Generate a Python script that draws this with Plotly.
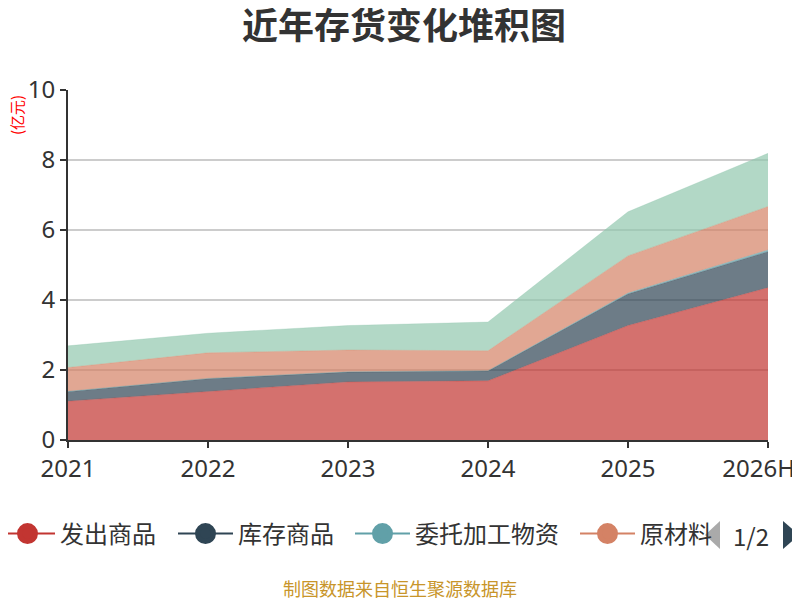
import plotly.graph_objects as go

years = ["2021", "2022", "2023", "2024", "2025", "2026H"]
names = ["发出商品", "库存商品", "委托加工物资", "原材料", "在产品"]
colors = ["#c23531", "#2f4554", "#61a0a8", "#d48265", "#91c7ae"]

fachu = [1.11, 1.38, 1.66, 1.69, 3.27, 4.35]
kucun = [0.27, 0.37, 0.28, 0.28, 0.90, 1.03]
weituo = [0.01, 0.01, 0.01, 0.01, 0.03, 0.05]
yuancai = [0.68, 0.73, 0.62, 0.57, 1.06, 1.24]
zaichan = [0.62, 0.56, 0.70, 0.82, 1.26, 1.52]
series = [fachu, kucun, weituo, yuancai, zaichan]

# the page puts the figure 8px in from the top-left corner
OFF = 8
W, H = 800 - OFF, 600 - OFF
# plot area in screen pixels: left 68, right 768, top 90, bottom 440
L, R, T, B = 68 - OFF, 768 - OFF, 90 - OFF, 440 - OFF


def px(x):
    return (x - OFF - L) / (R - L)


def py(y):
    return (B - (y - OFF)) / (B - T)


def rgba(h, a):
    h = h.lstrip("#")
    return "rgba(%d,%d,%d,%s)" % (int(h[0:2], 16), int(h[2:4], 16), int(h[4:6], 16), a)


fig = go.Figure()

for name, col, vals in zip(names, colors, series):
    fig.add_trace(go.Scatter(
        x=years, y=vals, name=name, stackgroup="one", mode="lines",
        line=dict(color=rgba(col, 0.5), width=0.6),
        fillcolor=rgba(col, 0.7), showlegend=False, hoverinfo="x+y+name"))

# legend entries (line + circle icon), first page only, one legend box each
legend_x = [0, 178, 355, 580]
legend_ids = ["legend", "legend2", "legend3", "legend4"]
for name, col, lid in zip(names[:4], colors[:4], legend_ids):
    fig.add_trace(go.Scatter(
        x=[None], y=[None], name=name, mode="lines+markers", legend=lid,
        line=dict(color=col, width=2),
        marker=dict(color=col, size=16, line=dict(color=col, width=5))))

legends = {}
for lid, lx in zip(legend_ids, legend_x):
    legends[lid] = dict(orientation="h", x=px(lx - 5), xanchor="left",
                        y=py(534), yanchor="middle",
                        font=dict(size=24, color="#333333"),
                        itemwidth=55, bgcolor="rgba(0,0,0,0)")

# legend pager "1/2"
fig.add_shape(type="path", xref="paper", yref="paper",
              path="M %f %f L %f %f L %f %f Z" % (px(720), py(521), px(705), py(535), px(720), py(549)),
              fillcolor="#aaaaaa", line=dict(width=0))
fig.add_shape(type="path", xref="paper", yref="paper",
              path="M %f %f L %f %f L %f %f Z" % (px(783), py(521), px(799), py(535), px(783), py(549)),
              fillcolor="#2f4554", line=dict(width=0))
fig.add_annotation(text="1/2", xref="paper", yref="paper", x=px(751), y=py(535),
                   xanchor="center", yanchor="middle",
                   showarrow=False, font=dict(size=24, color="#333333"))

fig.add_annotation(text="(亿元)", xref="paper", yref="paper", x=px(17), y=py(115),
                   xanchor="center", yanchor="middle",
                   textangle=-90, showarrow=False, font=dict(size=15, color="#ff0000"))
fig.add_annotation(text="制图数据来自恒生聚源数据库", xref="paper", yref="paper",
                   x=px(400), y=py(588), xanchor="center", yanchor="middle",
                   showarrow=False, font=dict(size=18, color="#c8952a"))

fig.update_layout(
    width=W, height=H,
    margin=dict(l=L, r=W - R, t=T, b=H - B, autoexpand=False),
    paper_bgcolor="white", plot_bgcolor="white",
    font=dict(family="Noto Sans CJK SC, Noto Sans, sans-serif", color="#333333"),
    title=dict(text="<b>近年存货变化堆积图</b>", x=0.5, xanchor="center",
               y=1 - (26 - OFF) / H, yanchor="middle",
               font=dict(size=36, color="#333333")),
    showlegend=True,
    **legends,
)

# last label sits a little left of its tick, as in the original
ticktext = years[:-1] + [years[-1] + "\u00a0\u00a0\u00a0"]
fig.update_xaxes(type="category", range=[0, len(years) - 1], showgrid=False,
                 tickvals=years, ticktext=ticktext,
                 showline=True, linecolor="#333333", linewidth=2,
                 ticks="outside", ticklen=6, tickcolor="#333333", tickwidth=2,
                 tickfont=dict(size=24, family="Noto Sans"))
fig.update_yaxes(range=[0, 10], dtick=2, showgrid=True, gridcolor="#cccccc",
                 gridwidth=1.5, zeroline=False,
                 showline=True, linecolor="#333333", linewidth=2,
                 ticks="outside", ticklen=6, tickcolor="#333333", tickwidth=2,
                 tickfont=dict(size=24, family="Noto Sans"))

fig.write_html("out.html")
